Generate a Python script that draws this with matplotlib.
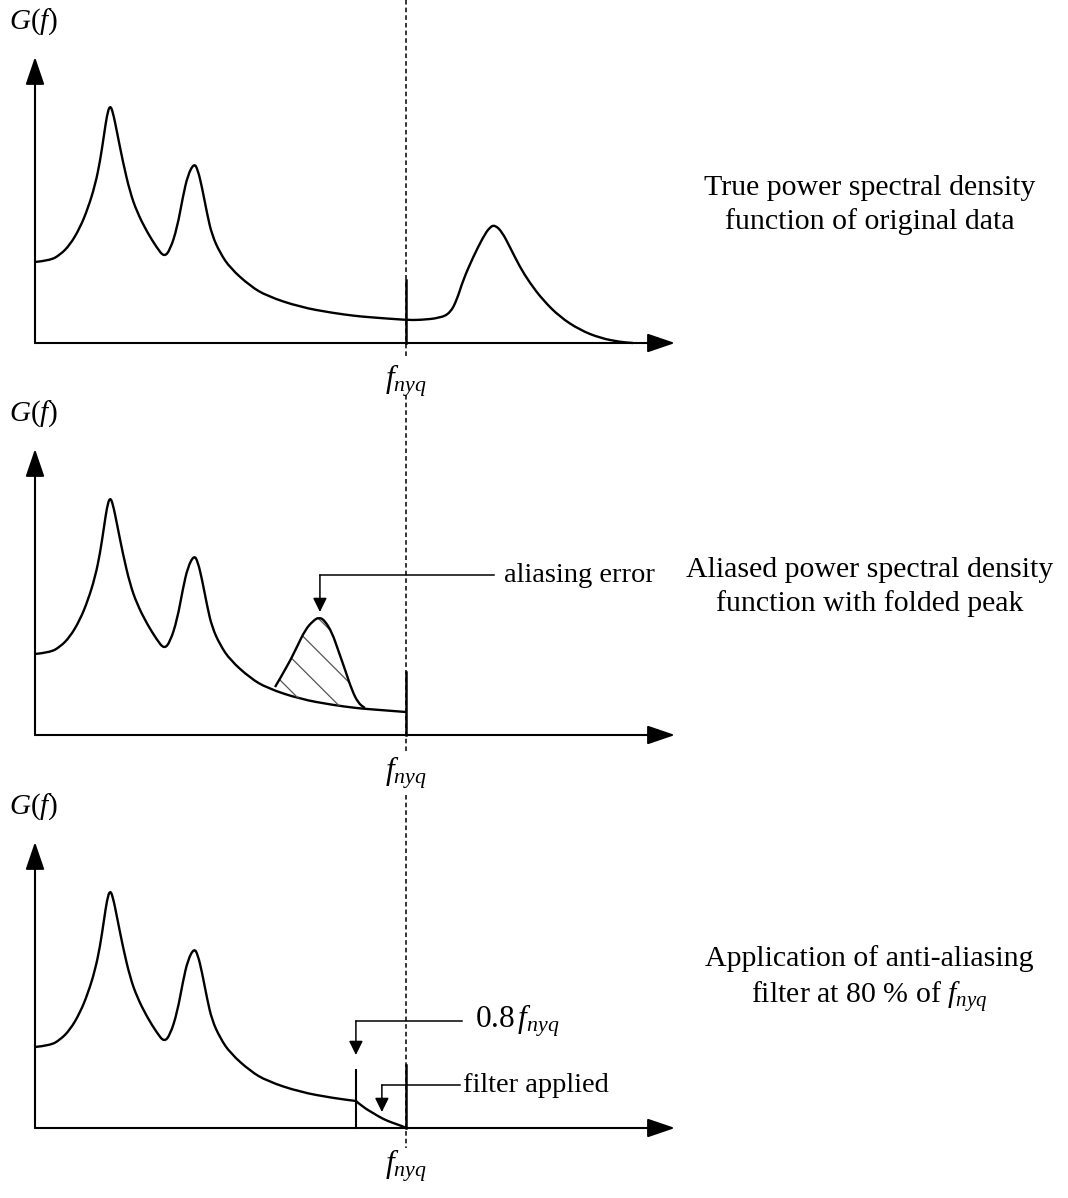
import matplotlib
matplotlib.use('Agg')
import matplotlib.pyplot as plt
from matplotlib.path import Path
from matplotlib.patches import PathPatch
import numpy as np

plt.rcParams['font.family'] = ['Liberation Serif', 'DejaVu Serif']
plt.rcParams['mathtext.fontset'] = 'custom'
plt.rcParams['mathtext.rm'] = 'Liberation Serif'
plt.rcParams['mathtext.it'] = 'Liberation Serif:italic'
plt.rcParams['hatch.linewidth'] = 0.9

# frequency (f_nyq = 1) and spectral density
freq = [0.000, 0.040, 0.067, 0.094, 0.121, 0.143, 0.162, 0.175, 0.186, 0.194,
        0.202, 0.210, 0.221, 0.237, 0.256, 0.275, 0.302, 0.329, 0.348, 0.364,
        0.383, 0.399, 0.412, 0.429, 0.439, 0.450, 0.464, 0.477, 0.499, 0.526,
        0.580, 0.625, 0.714, 0.803, 0.865, 0.895, 1.000, 1.038, 1.092, 1.119,
        1.137, 1.154, 1.181, 1.208, 1.226, 1.240, 1.259, 1.280, 1.307, 1.334,
        1.369, 1.415, 1.469, 1.523, 1.577, 1.612]
psd = [0.81, 0.825, 0.88, 0.98, 1.15, 1.35, 1.58, 1.81, 2.08, 2.28,
       2.38, 2.31, 2.11, 1.81, 1.51, 1.31, 1.11, 0.95, 0.86, 0.93,
       1.15, 1.47, 1.68, 1.80, 1.73, 1.56, 1.29, 1.08, 0.90, 0.75,
       0.57, 0.47, 0.36, 0.30, 0.27, 0.26, 0.23, 0.23, 0.25, 0.30,
       0.43, 0.63, 0.86, 1.06, 1.16, 1.18, 1.11, 0.96, 0.76, 0.60,
       0.43, 0.26, 0.13, 0.05, 0.01, 0.00]

# folded (aliased) peak
fold_f = [0.647, 0.679, 0.706, 0.728, 0.749, 0.766, 0.782, 0.801, 0.817,
          0.836, 0.854, 0.871, 0.889]
fold_g = [0.48, 0.68, 0.88, 1.05, 1.14, 1.18, 1.14, 1.02, 0.85,
          0.65, 0.45, 0.32, 0.27]

# anti-aliasing filter roll-off
cut_f = 0.865
filt_f = [0.865, 0.884, 0.911, 0.938, 0.965, 0.989, 1.000]
filt_g = [0.27, 0.21, 0.15, 0.09, 0.05, 0.02, 0.00]

f_nyq = 1.0
side_text = ['True power spectral density\nfunction of original data',
             'Aliased power spectral density\nfunction with folded peak',
             'Application of anti-aliasing\nfilter at 80 % of $f_{nyq}$']


def smooth_line(ax, x, y, lw=1.7):
    # quadratic bezier through the midpoints -> rounded peaks
    pts = np.column_stack([x, y])
    verts = [pts[0]]
    codes = [Path.MOVETO]
    for k in range(1, len(pts) - 1):
        verts += [pts[k], (pts[k] + pts[k + 1]) / 2]
        codes += [Path.CURVE3, Path.CURVE3]
    verts.append(pts[-1])
    codes.append(Path.LINETO)
    ax.add_patch(PathPatch(Path(verts, codes), fill=False, lw=lw,
                           edgecolor='k', joinstyle='round', capstyle='butt'))


W, H = 1068, 1198
fig = plt.figure(figsize=(W / 100, H / 100), dpi=100)
axis_px = [343, 735, 1128]
dash_span = [(3.43, -0.14), (3.40, -0.17), (3.33, -0.20)]

freq = np.array(freq)
psd = np.array(psd)
fs = 20.5
fs_side = 21.5

axes = []
for i, ay in enumerate(axis_px):
    top = ay - 340
    ax = fig.add_axes([0, 1 - (top + 400) / H, 1, 400 / H])
    ax.set_xlim(-35 / 371, (W - 35) / 371)
    ax.set_ylim(-0.6, 3.4)
    ax.axis('off')
    axes.append(ax)

    big = dict(arrowstyle='-|>,head_length=0.85,head_width=0.29',
               mutation_scale=20, lw=1.5, color='k', shrinkA=0, shrinkB=0)
    ax.annotate('', xy=(0, 2.86), xytext=(0, 0), arrowprops=big)
    ax.annotate('', xy=(1.725, 0), xytext=(0, 0), arrowprops=big)

    ax.plot([f_nyq, f_nyq], list(dash_span[i]), color='k', lw=1.1,
            ls=(0, (3.0, 2.0)), clip_on=False)
    ax.plot([f_nyq, f_nyq], [0, 0.63], color='k', lw=1.8)

    ax.text(-0.07, 3.21, '$G(f)$', fontsize=fs + 0.5, ha='left', va='center')
    ax.text(f_nyq, -0.38, '$f_{nyq}$', fontsize=fs + 2, ha='center', va='center')
    ax.text(2.25, 1.38 if i == 0 else 1.48, side_text[i], fontsize=fs_side,
            ha='center', va='center', linespacing=1.3)

small = dict(arrowstyle='-|>,head_length=0.85,head_width=0.42',
             mutation_scale=10, lw=1.1, color='k', shrinkA=0, shrinkB=0)

# panel 1: full spectrum
ax1 = axes[0]
smooth_line(ax1, freq, psd)

# panel 2: spectrum up to nyquist + folded peak
ax2 = axes[1]
m = freq <= f_nyq
smooth_line(ax2, freq[m], psd[m])
base = (freq > fold_f[0]) & (freq < fold_f[-1])
poly_f = np.concatenate([fold_f, freq[base][::-1]])
poly_g = np.concatenate([fold_g, psd[base][::-1]])
ax2.fill(poly_f, poly_g, facecolor='none', edgecolor='#555555', lw=0,
         hatch='\\')
smooth_line(ax2, np.array(fold_f), np.array(fold_g))
ax2.plot([0.768, 1.237], [1.60, 1.60], color='k', lw=1.1)
ax2.annotate('', xy=(0.768, 1.23), xytext=(0.768, 1.60), arrowprops=small)
ax2.text(1.265, 1.60, 'aliasing error', fontsize=fs, ha='left', va='center')

# panel 3: filtered spectrum
ax3 = axes[2]
m = freq <= cut_f
smooth_line(ax3, freq[m], psd[m])
smooth_line(ax3, np.array(filt_f), np.array(filt_g))
ax3.plot([cut_f, cut_f], [0, 0.58], color='k', lw=1.5)
ax3.plot([cut_f, 1.151], [1.07, 1.07], color='k', lw=1.1)
ax3.annotate('', xy=(cut_f, 0.73), xytext=(cut_f, 1.07), arrowprops=small)
ax3.text(1.186, 1.07, r'$\mathit{0.8}\,f_{nyq}$', fontsize=fs + 2,
         ha='left', va='center')
ax3.plot([0.935, 1.146], [0.43, 0.43], color='k', lw=1.1)
ax3.annotate('', xy=(0.935, 0.16), xytext=(0.935, 0.43), arrowprops=small)
ax3.text(1.154, 0.43, 'filter applied', fontsize=fs, ha='left', va='center')

fig.savefig('out.png', dpi=100)
